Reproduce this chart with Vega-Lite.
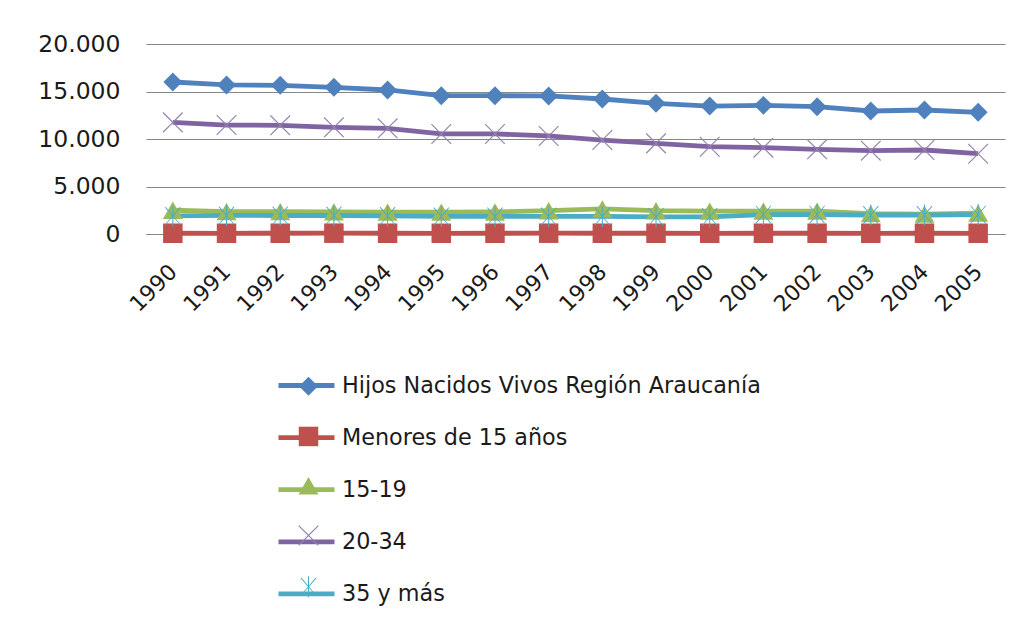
{
  "$schema": "https://vega.github.io/schema/vega-lite/v6.json",
  "autosize": {"type": "none"},
  "width": 859,
  "height": 190,
  "padding": {"left": 146, "top": 44, "right": 28, "bottom": 387},
  "background": "white",
  "config": {
    "view": {"stroke": null},
    "font": "DejaVu Sans"
  },
  "data": {
    "values": [
      {"year": "1990", "serie": "Hijos Nacidos Vivos Región Araucanía", "value": 16000},
      {"year": "1991", "serie": "Hijos Nacidos Vivos Región Araucanía", "value": 15690},
      {"year": "1992", "serie": "Hijos Nacidos Vivos Región Araucanía", "value": 15650},
      {"year": "1993", "serie": "Hijos Nacidos Vivos Región Araucanía", "value": 15440},
      {"year": "1994", "serie": "Hijos Nacidos Vivos Región Araucanía", "value": 15160},
      {"year": "1995", "serie": "Hijos Nacidos Vivos Región Araucanía", "value": 14560},
      {"year": "1996", "serie": "Hijos Nacidos Vivos Región Araucanía", "value": 14560},
      {"year": "1997", "serie": "Hijos Nacidos Vivos Región Araucanía", "value": 14530},
      {"year": "1998", "serie": "Hijos Nacidos Vivos Región Araucanía", "value": 14210},
      {"year": "1999", "serie": "Hijos Nacidos Vivos Región Araucanía", "value": 13760},
      {"year": "2000", "serie": "Hijos Nacidos Vivos Región Araucanía", "value": 13470},
      {"year": "2001", "serie": "Hijos Nacidos Vivos Región Araucanía", "value": 13540},
      {"year": "2002", "serie": "Hijos Nacidos Vivos Región Araucanía", "value": 13400},
      {"year": "2003", "serie": "Hijos Nacidos Vivos Región Araucanía", "value": 12950},
      {"year": "2004", "serie": "Hijos Nacidos Vivos Región Araucanía", "value": 13050},
      {"year": "2005", "serie": "Hijos Nacidos Vivos Región Araucanía", "value": 12810},
      {"year": "1990", "serie": "Menores de 15 años", "value": 80},
      {"year": "1991", "serie": "Menores de 15 años", "value": 75},
      {"year": "1992", "serie": "Menores de 15 años", "value": 80},
      {"year": "1993", "serie": "Menores de 15 años", "value": 85},
      {"year": "1994", "serie": "Menores de 15 años", "value": 80},
      {"year": "1995", "serie": "Menores de 15 años", "value": 75},
      {"year": "1996", "serie": "Menores de 15 años", "value": 80},
      {"year": "1997", "serie": "Menores de 15 años", "value": 85},
      {"year": "1998", "serie": "Menores de 15 años", "value": 80},
      {"year": "1999", "serie": "Menores de 15 años", "value": 80},
      {"year": "2000", "serie": "Menores de 15 años", "value": 75},
      {"year": "2001", "serie": "Menores de 15 años", "value": 80},
      {"year": "2002", "serie": "Menores de 15 años", "value": 80},
      {"year": "2003", "serie": "Menores de 15 años", "value": 75},
      {"year": "2004", "serie": "Menores de 15 años", "value": 80},
      {"year": "2005", "serie": "Menores de 15 años", "value": 75},
      {"year": "1990", "serie": "15-19", "value": 2500},
      {"year": "1991", "serie": "15-19", "value": 2350},
      {"year": "1992", "serie": "15-19", "value": 2350},
      {"year": "1993", "serie": "15-19", "value": 2330},
      {"year": "1994", "serie": "15-19", "value": 2300},
      {"year": "1995", "serie": "15-19", "value": 2300},
      {"year": "1996", "serie": "15-19", "value": 2320},
      {"year": "1997", "serie": "15-19", "value": 2450},
      {"year": "1998", "serie": "15-19", "value": 2650},
      {"year": "1999", "serie": "15-19", "value": 2450},
      {"year": "2000", "serie": "15-19", "value": 2400},
      {"year": "2001", "serie": "15-19", "value": 2400},
      {"year": "2002", "serie": "15-19", "value": 2400},
      {"year": "2003", "serie": "15-19", "value": 2150},
      {"year": "2004", "serie": "15-19", "value": 2100},
      {"year": "2005", "serie": "15-19", "value": 2200},
      {"year": "1990", "serie": "20-34", "value": 11750},
      {"year": "1991", "serie": "20-34", "value": 11470},
      {"year": "1992", "serie": "20-34", "value": 11440},
      {"year": "1993", "serie": "20-34", "value": 11230},
      {"year": "1994", "serie": "20-34", "value": 11120},
      {"year": "1995", "serie": "20-34", "value": 10530},
      {"year": "1996", "serie": "20-34", "value": 10530},
      {"year": "1997", "serie": "20-34", "value": 10320},
      {"year": "1998", "serie": "20-34", "value": 9890},
      {"year": "1999", "serie": "20-34", "value": 9540},
      {"year": "2000", "serie": "20-34", "value": 9190},
      {"year": "2001", "serie": "20-34", "value": 9090},
      {"year": "2002", "serie": "20-34", "value": 8910},
      {"year": "2003", "serie": "20-34", "value": 8770},
      {"year": "2004", "serie": "20-34", "value": 8840},
      {"year": "2005", "serie": "20-34", "value": 8450},
      {"year": "1990", "serie": "35 y más", "value": 1900},
      {"year": "1991", "serie": "35 y más", "value": 1950},
      {"year": "1992", "serie": "35 y más", "value": 1950},
      {"year": "1993", "serie": "35 y más", "value": 1950},
      {"year": "1994", "serie": "35 y más", "value": 1900},
      {"year": "1995", "serie": "35 y más", "value": 1850},
      {"year": "1996", "serie": "35 y más", "value": 1850},
      {"year": "1997", "serie": "35 y más", "value": 1850},
      {"year": "1998", "serie": "35 y más", "value": 1850},
      {"year": "1999", "serie": "35 y más", "value": 1800},
      {"year": "2000", "serie": "35 y más", "value": 1800},
      {"year": "2001", "serie": "35 y más", "value": 2050},
      {"year": "2002", "serie": "35 y más", "value": 2050},
      {"year": "2003", "serie": "35 y más", "value": 2000},
      {"year": "2004", "serie": "35 y más", "value": 2000},
      {"year": "2005", "serie": "35 y más", "value": 2050}
    ]
  },
  "encoding": {
    "x": {
      "field": "year", "type": "ordinal",
      "scale": {"type": "point", "padding": 0.5},
      "axis": {
        "title": null, "labelAngle": -45, "labelAlign": "right", "labelBaseline": "middle",
        "labelFontSize": 22, "labelColor": "#1a1a1a", "labelPadding": 34,
        "ticks": false, "domain": true, "domainColor": "#878787", "domainWidth": 1.2, "grid": false
      }
    },
    "y": {
      "field": "value", "type": "quantitative",
      "scale": {"domain": [0, 20000], "nice": false},
      "axis": {
        "title": null, "values": [0, 5000, 10000, 15000, 20000],
        "labelExpr": "replace(format(datum.value, ',d'), ',', '.')",
        "labelFontSize": 23.5, "labelColor": "#1a1a1a", "labelPadding": 26,
        "ticks": false, "domain": false, "grid": true, "gridColor": "#878787", "gridWidth": 1.2
      }
    }
  },
  "layer": [
    {
      "mark": {"type": "line", "strokeWidth": 4.8},
      "encoding": {
        "stroke": {
          "field": "serie", "type": "nominal",
          "sort": ["Hijos Nacidos Vivos Región Araucanía", "Menores de 15 años", "15-19", "20-34", "35 y más"],
          "scale": {"range": ["#4F81BD", "#C0504D", "#9BBB59", "#8064A2", "#4BACC6"]},
          "legend": {
            "title": null, "orient": "none", "legendX": 130, "legendY": 311, "direction": "vertical",
            "symbolType": "stroke", "symbolSize": 3136, "symbolStrokeWidth": 4.8,
            "labelFontSize": 22.3, "labelColor": "#1a1a1a", "labelOffset": 5, "rowPadding": 10.1,
            "labelLimit": 600
          }
        }
      }
    },
    {
      "mark": {"type": "point", "filled": true, "opacity": 1, "strokeWidth": 0},
      "encoding": {
        "shape": {
          "field": "serie", "type": "nominal",
          "scale": {
            "domain": ["Hijos Nacidos Vivos Región Araucanía", "Menores de 15 años", "15-19", "20-34", "35 y más"],
            "range": [
              "diamond", "square", "triangle-up",
              "M-1,-0.92L-0.92,-1L0,-0.08L0.92,-1L1,-0.92L0.08,0L1,0.92L0.92,1L0,0.08L-0.92,1L-1,0.92L-0.08,0Z",
              "M-0.75,-0.81L-0.69,-0.87L0,-0.06L0.69,-0.87L0.75,-0.81L0.06,0L0.75,0.81L0.69,0.87L0,0.06L-0.69,0.87L-0.75,0.81L-0.06,0ZM-0.05,-1L0.05,-1L0.05,1L-0.05,1Z"
            ]
          },
          "legend": {
            "title": null, "orient": "none", "legendX": 151, "legendY": 331, "direction": "vertical",
            "labelExpr": "' '", "labelFontSize": 22.3, "labelOffset": 0, "rowPadding": 24.3,
            "labelLimit": 600
          }
        },
        "fill": {
          "field": "serie", "type": "nominal",
          "scale": {
            "domain": ["Hijos Nacidos Vivos Región Araucanía", "Menores de 15 años", "15-19", "20-34", "35 y más"],
            "range": ["#4F81BD", "#C0504D", "#9BBB59", "#9383B0", "#4BACC6"]
          }
        },
        "size": {
          "field": "serie", "type": "nominal",
          "scale": {
            "domain": ["Hijos Nacidos Vivos Región Araucanía", "Menores de 15 años", "15-19", "20-34", "35 y más"],
            "range": [360, 441, 320, 480, 300]
          }
        }
      }
    }
  ]
}
